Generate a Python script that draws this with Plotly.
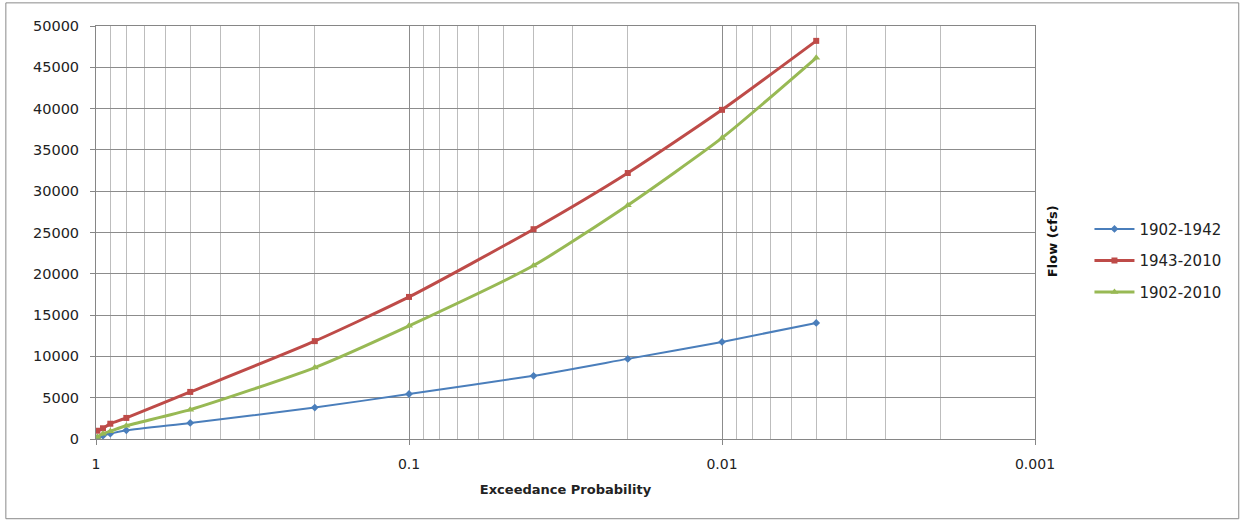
import plotly.graph_objects as go

# Exceedance probability of each quantile
exceedance = [0.99, 0.95, 0.9, 0.8, 0.5, 0.2, 0.1, 0.04, 0.02, 0.01, 0.005]

# Peak flow (cfs) for each record period
flow_1902_1942 = [150, 400, 650, 1050, 1950, 3800, 5450, 7650, 9700, 11750, 14050]
flow_1943_2010 = [1000, 1300, 1850, 2550, 5700, 11850, 17200, 25400, 32200, 39850, 48200]
flow_1902_2010 = [250, 650, 950, 1600, 3550, 8650, 13700, 21000, 28300, 36450, 46150]

series = [
    ("1902-1942", flow_1902_1942, "#4a7ebb", 2, "diamond", 6),
    ("1943-2010", flow_1943_2010, "#be4b48", 3, "square", 6),
    ("1902-2010", flow_1902_2010, "#98b954", 3, "triangle-up", 7),
]

decades = [1, 0.1, 0.01, 0.001]
decade_labels = ["1", "0.1", "0.01", "0.001"]
minor_vals = [m * d for d in [0.1, 0.01, 0.001] for m in range(2, 10)]

y_ticks = list(range(0, 50001, 5000))
y_labels = [str(v) for v in y_ticks]

fig = go.Figure()
for name, vals, color, width, symbol, msize in series:
    fig.add_trace(go.Scatter(
        x=exceedance, y=vals, name=name, mode="lines+markers",
        legendgroup=name,
        line=dict(color=color, width=width, shape="spline", smoothing=0.6),
        marker=dict(symbol=symbol, size=msize, color=color),
    ))

font = "DejaVu Sans, Verdana, sans-serif"

fig.update_layout(
    width=1245, height=522,
    margin=dict(l=96, r=210, t=26, b=83),
    paper_bgcolor="white", plot_bgcolor="white",
    font=dict(family=font, size=14, color="#222222"),
    showlegend=True,
    legend=dict(
        x=1.058, y=0.548, xanchor="left", yanchor="top",
        font=dict(size=15, color="#222222"),
        bgcolor="rgba(0,0,0,0)", itemwidth=40, tracegroupgap=9,
    ),
    xaxis=dict(
        type="log", range=[0, -3],
        tickmode="array", tickvals=decades, ticktext=decade_labels,
        ticks="outside", ticklen=5, tickcolor="#868686",
        ticklabelstandoff=7,
        showgrid=True, gridcolor="#8c8c8c", gridwidth=1,
        showline=True, linecolor="#868686", linewidth=1, mirror=True,
        minor=dict(tickmode="array", tickvals=minor_vals, showgrid=True,
                   gridcolor="#bdbdbd", gridwidth=1, ticks=""),
        zeroline=False,
        title=dict(text="<b>Exceedance Probability</b>", standoff=14,
                   font=dict(size=13, color="#222222")),
    ),
    yaxis=dict(
        range=[0, 50000], tickmode="array", tickvals=y_ticks, ticktext=y_labels,
        ticks="outside", ticklen=5, tickcolor="#868686",
        ticklabelstandoff=8,
        showgrid=True, gridcolor="#8c8c8c", gridwidth=1,
        showline=True, linecolor="#868686", linewidth=1, mirror=True,
        zeroline=False, tickfont=dict(size=14.5),
    ),
    annotations=[dict(
        text="<b>Flow (cfs)</b>", textangle=-90,
        xref="paper", yref="paper", x=1.0185, y=0.48,
        xanchor="center", yanchor="middle", showarrow=False,
        font=dict(size=13, color="#111111"),
    )],
    shapes=[dict(
        type="rect", xref="paper", yref="paper",
        x0=-0.096, x1=1.217, y0=-0.193, y1=1.056,
        line=dict(color="#8a8a8a", width=1), fillcolor="rgba(0,0,0,0)",
        layer="below",
    )],
)

fig.write_html("out.html")
